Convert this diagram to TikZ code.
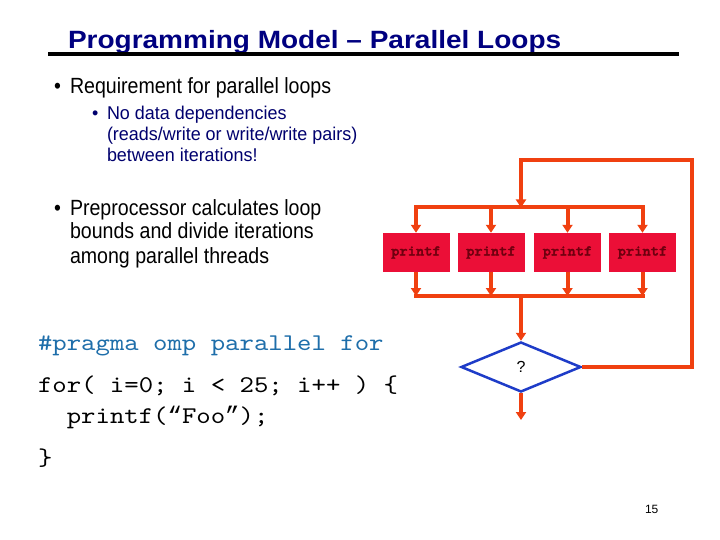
\documentclass[tikz,border=0pt]{standalone}
\usepackage{fontspec}
\setmainfont{Liberation Sans}
\newfontfamily\titlefont[FakeStretch=1.12]{Liberation Sans Bold}
\newfontfamily\bodyfont[FakeStretch=0.89]{Liberation Sans}
\newfontfamily\subfont[FakeStretch=0.97]{Liberation Sans}
\newfontfamily\codefont[FakeStretch=1.143]{lmmono10-regular.otf}
\newfontfamily\quotefont{Liberation Mono}
\newfontfamily\codeboldfont[FakeStretch=1.05,FakeBold=2]{lmmonolt10-bold.otf}
\usetikzlibrary{arrows.meta,shapes.geometric}
\definecolor{titleblue}{RGB}{0,0,128}
\definecolor{subblue}{RGB}{0,0,110}
\definecolor{codeblue}{RGB}{30,110,170}
\definecolor{flowred}{RGB}{240,64,16}
\definecolor{boxred}{RGB}{235,15,55}
\definecolor{boxtext}{RGB}{110,0,15}
\definecolor{diamondblue}{RGB}{30,60,200}
\begin{document}
\begin{tikzpicture}[x=1pt,y=-1pt,
  txt/.style={anchor=base west,inner sep=0pt,outer sep=0pt},
  titletxt/.style={txt,text=titleblue,font=\titlefont\fontsize{25}{29}\selectfont},
  bodytxt/.style={txt,text=black,font=\bodyfont\fontsize{22}{26}\selectfont},
  subtxt/.style={txt,text=subblue,font=\subfont\fontsize{18.5}{22}\selectfont},
  codetxt/.style={txt,text=black,font=\codefont\fontsize{24}{28}\selectfont},
  pragmatxt/.style={codetxt,text=codeblue},
  printbox/.style={rectangle,fill=boxred,minimum width=67pt,minimum height=39pt,inner sep=0pt,
    text=boxtext,font=\codeboldfont\fontsize{15}{17}\selectfont},
  decision/.style={diamond,draw=diamondblue,line width=2.5pt,fill=white,minimum width=120pt,
    minimum height=50pt,aspect=2.4,inner sep=0pt,font=\fontsize{16}{18}\selectfont},
  flowline/.style={draw=flowred,line width=4pt,line join=miter},
  flowarrow/.style={flowline,-{Triangle[width=10pt,length=8pt]}}
]
\fill[white] (0,0) rectangle (720,540);
\useasboundingbox (0,0) rectangle (720,540);

% title
\node[titletxt] (title) at (68,49) {Programming Model – Parallel Loops};
\coordinate (ulL) at (48,54);
\coordinate (ulR) at (679,54);
\draw[line width=4pt] (ulL) -- (ulR);

% bullets
\node[bodytxt] (b1dot) at (54,94) {•};
\node[bodytxt] (b1) at (70,94) {Requirement for parallel loops};
\node[subtxt] (s1dot) at (92,119.5) {•};
\node[subtxt] (s1) at (107,119.5) {No data dependencies};
\node[subtxt] (s2) at (107,140.5) {(reads/write or write/write pairs)};
\node[subtxt] (s3) at (107,161.5) {between iterations!};
\node[bodytxt] (b2dot) at (54,215) {•};
\node[bodytxt] (b2) at (70,215) {Preprocessor calculates loop};
\node[bodytxt] (b3) at (70,239) {bounds and divide iterations};
\node[bodytxt] (b4) at (70,263) {among parallel threads};

% code
\node[pragmatxt] (c0) at (38,350) {\#pragma omp parallel for};
\node[codetxt] (c1) at (38,392) {for( i=0; i < 25; i++ ) \{};
\node[codetxt] (c2) at (66.8,423) {printf({\quotefont “}Foo{\quotefont ”});};
\node[codetxt] (c3) at (38,465) {\}};

% page number
\node[txt,font=\fontsize{12}{14}\selectfont] (pg) at (645,513) {15};

% flow diagram
\node[printbox] (p1) at (416,252.5) {printf};
\node[printbox] (p2) at (491,252.5) {printf};
\node[printbox] (p3) at (567.5,252.5) {printf};
\node[printbox] (p4) at (642.5,252.5) {printf};
\node[decision] (d) at (521,367) {?};

\coordinate (topbar) at (0,207.5);
\coordinate (botbar) at (0,296);
\coordinate (loopTR) at (692,160);
\coordinate (exit) at (521,420);

\draw[flowline,line cap=rect] (p1.north |- topbar) -- (p4.north |- topbar);
\draw[flowline,line cap=rect] (p1.south |- botbar) -- (p4.south |- botbar);
\foreach \p in {p1,p2,p3,p4} {
  \draw[flowarrow] (\p.north |- topbar) -- (\p.north);
  \draw[flowarrow] (\p.south) -- (\p.south |- botbar);
}
\draw[flowarrow] (d.north |- botbar) -- (d.north);
\draw[flowarrow] (d.south) -- (exit);
\draw[flowarrow] (d.east) -| (loopTR) -| (d.north |- topbar);
\end{tikzpicture}
\end{document}
